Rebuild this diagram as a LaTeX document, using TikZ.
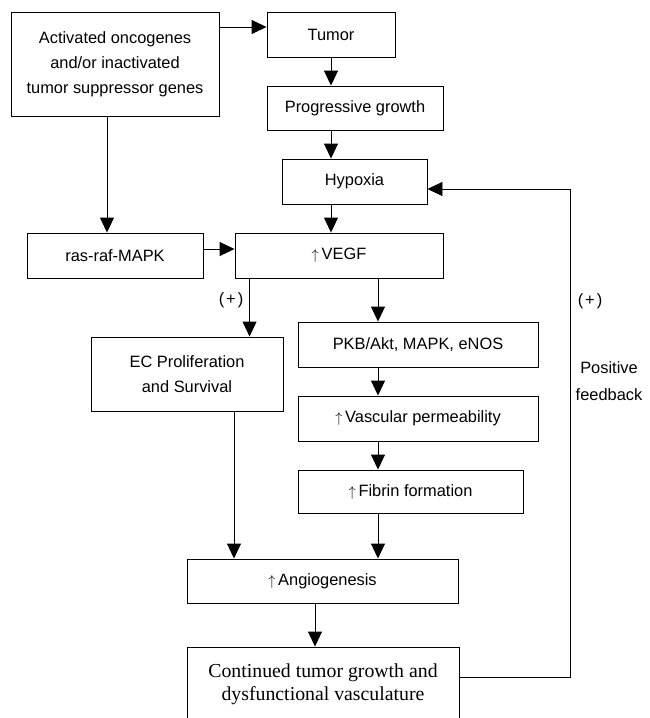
\documentclass[tikz,border=0pt]{standalone}
\usepackage{fontspec}
\setmainfont{Liberation Sans}
\newfontfamily\timesfont{Liberation Serif}
\usetikzlibrary{arrows.meta}
\newcommand{\upar}{{\fontsize{14}{14}\selectfont$\uparrow$}\,}
\tikzset{
  blk/.style={draw, line width=0.9pt, inner sep=0pt, align=center,
    font=\fontsize{16.4}{25}\selectfont},
  lbl/.style={inner sep=0pt, align=center, font=\fontsize{16.4}{27}\selectfont},
}
\begin{document}
\begin{tikzpicture}[x=1pt,y=-1pt,line width=0.9pt,>={Triangle[length=15pt,width=14pt]}]
\clip (0,0) rectangle (650,718);
% boxes
\node[blk,minimum width=208pt,minimum height=104pt] (onco) at (115,64)
  {Activated oncogenes\\and/or inactivated\\tumor suppressor genes};
\node[blk,minimum width=128pt,minimum height=45pt] (tumor) at (331,34.5) {Tumor};
\node[blk,minimum width=176pt,minimum height=44pt] (growth) at (355,108) {Progressive growth};
\node[blk,minimum width=145pt,minimum height=45pt] (hypoxia) at (354.5,181.5) {Hypoxia};
\node[blk,minimum width=208pt,minimum height=45pt] (vegf) at (339,255.5) {\upar VEGF};
\node[blk,minimum width=176pt,minimum height=45pt] (ras) at (115,255.5) {ras-raf-MAPK};
\node[blk,minimum width=192pt,minimum height=74pt] (ec) at (187,374) {EC Proliferation\\and Survival};
\node[blk,minimum width=240pt,minimum height=45pt] (pkb) at (418,344.5) {PKB/Akt, MAPK, eNOS};
\node[blk,minimum width=240pt,minimum height=45pt] (perm) at (418,418.5) {\upar Vascular permeability};
\node[blk,minimum width=225pt,minimum height=43pt] (fibrin) at (410.5,491.5) {\upar Fibrin formation};
\node[blk,minimum width=271pt,minimum height=44pt] (angio) at (322.5,581) {\upar Angiogenesis};
\node[blk,minimum width=272pt,minimum height=74pt,font=\timesfont\fontsize{19.8}{23}\selectfont] (cont) at (323,684)
  {Continued tumor growth and\\dysfunctional vasculature};

% helper points
\coordinate (t1) at ([yshift=7.5pt]tumor.west);
\coordinate (o1) at ([xshift=-8pt]onco.south);
\coordinate (r1) at ([yshift=6.5pt]ras.east);
\coordinate (v1) at ([xshift=15pt]vegf.south west);
\coordinate (v2) at ([xshift=39pt]vegf.south);
\coordinate (e1) at ([xshift=47pt]ec.south);
\coordinate (a1) at ([xshift=-7.5pt]angio.south);

% arrows
\draw[->] (onco.east |- t1) -- (t1);
\draw[->] (tumor) -- (tumor |- growth.north);
\draw[->] (tumor.south |- growth.south) -- (tumor.south |- hypoxia.north);
\draw[->] (tumor.south |- hypoxia.south) -- (tumor.south |- vegf.north);
\draw[->] (o1) -- (o1 |- ras.north);
\draw[->] (r1) -- (vegf.west |- r1);
\draw[->] (v1) -- (v1 |- ec.north);
\draw[->] (v2) -- (v2 |- pkb.north);
\draw[->] (v2 |- pkb.south) -- (v2 |- perm.north);
\draw[->] (v2 |- perm.south) -- (v2 |- fibrin.north);
\draw[->] (v2 |- fibrin.south) -- (v2 |- angio.north);
\draw[->] (e1) -- (e1 |- angio.north);
\draw[->] (a1) -- (a1 |- cont.north);
\draw[->] ([yshift=7pt]cont.east) -- ++(111pt,0) |- ([yshift=-7.5pt]hypoxia.east);

% labels
\node[lbl] (plus1) at (231,300) {(\hspace{2pt}+\hspace{2pt})};
\node[lbl] (plus2) at (590,301) {(\hspace{2pt}+\hspace{2pt})};
\node[lbl] (fbtext) at (609,381) {Positive\\feedback};
\end{tikzpicture}
\end{document}
